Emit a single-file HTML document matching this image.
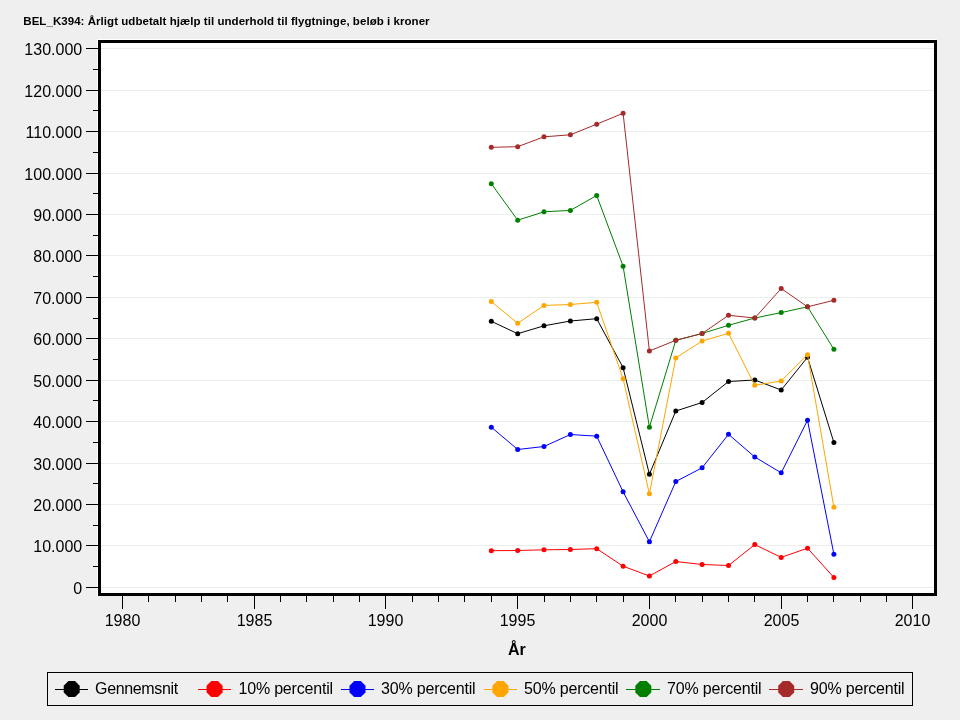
<!DOCTYPE html>
<html lang="da"><head><meta charset="utf-8"><title>BEL_K394</title>
<style>
html,body{margin:0;padding:0;background:#EFEFEF;}
body{width:960px;height:720px;overflow:hidden;position:relative;}
svg{position:absolute;left:0;top:0;display:block;}
text{font-family:"Liberation Sans",Arial,sans-serif;fill:#000;}
.t{font-size:11.5px;font-weight:bold;letter-spacing:0.05px;}
.tk{font-size:16px;}
.tky{font-size:16px;}
.lg{font-size:16px;letter-spacing:-0.2px;}
.ax{font-size:16px;font-weight:bold;}
</style></head><body>
<svg width="960" height="720" viewBox="0 0 960 720">
<rect x="0" y="0" width="960" height="720" fill="#EFEFEF"/>
<rect x="97" y="39" width="840" height="557" fill="#FFFFFF" shape-rendering="crispEdges"/>
<rect x="98" y="40" width="839" height="556" fill="#000" shape-rendering="crispEdges"/>
<rect x="101" y="43" width="833" height="550" fill="#FFFFFF" shape-rendering="crispEdges"/>
<text class="t" x="23.3" y="25">BEL_K394: Årligt udbetalt hjælp til underhold til flygtninge, beløb i kroner</text>
<g shape-rendering="crispEdges">
<rect x="101" y="587" width="833" height="1" fill="#EBEFEB"/><rect x="86" y="587" width="12" height="1" fill="#000"/><rect x="93" y="566" width="5" height="1" fill="#000"/><rect x="101" y="545" width="833" height="1" fill="#EBEFEB"/><rect x="86" y="545" width="12" height="1" fill="#000"/><rect x="93" y="525" width="5" height="1" fill="#000"/><rect x="101" y="504" width="833" height="1" fill="#EBEFEB"/><rect x="86" y="504" width="12" height="1" fill="#000"/><rect x="93" y="483" width="5" height="1" fill="#000"/><rect x="101" y="463" width="833" height="1" fill="#EBEFEB"/><rect x="86" y="463" width="12" height="1" fill="#000"/><rect x="93" y="442" width="5" height="1" fill="#000"/><rect x="101" y="421" width="833" height="1" fill="#EBEFEB"/><rect x="86" y="421" width="12" height="1" fill="#000"/><rect x="93" y="400" width="5" height="1" fill="#000"/><rect x="101" y="380" width="833" height="1" fill="#EBEFEB"/><rect x="86" y="380" width="12" height="1" fill="#000"/><rect x="93" y="359" width="5" height="1" fill="#000"/><rect x="101" y="338" width="833" height="1" fill="#EBEFEB"/><rect x="86" y="338" width="12" height="1" fill="#000"/><rect x="93" y="318" width="5" height="1" fill="#000"/><rect x="101" y="297" width="833" height="1" fill="#EBEFEB"/><rect x="86" y="297" width="12" height="1" fill="#000"/><rect x="93" y="276" width="5" height="1" fill="#000"/><rect x="101" y="255" width="833" height="1" fill="#EBEFEB"/><rect x="86" y="255" width="12" height="1" fill="#000"/><rect x="93" y="235" width="5" height="1" fill="#000"/><rect x="101" y="214" width="833" height="1" fill="#EBEFEB"/><rect x="86" y="214" width="12" height="1" fill="#000"/><rect x="93" y="193" width="5" height="1" fill="#000"/><rect x="101" y="173" width="833" height="1" fill="#EBEFEB"/><rect x="86" y="173" width="12" height="1" fill="#000"/><rect x="93" y="152" width="5" height="1" fill="#000"/><rect x="101" y="131" width="833" height="1" fill="#EBEFEB"/><rect x="86" y="131" width="12" height="1" fill="#000"/><rect x="93" y="110" width="5" height="1" fill="#000"/><rect x="101" y="90" width="833" height="1" fill="#EBEFEB"/><rect x="86" y="90" width="12" height="1" fill="#000"/><rect x="93" y="69" width="5" height="1" fill="#000"/><rect x="101" y="48" width="833" height="1" fill="#EBEFEB"/><rect x="86" y="48" width="12" height="1" fill="#000"/>
<rect x="122" y="596" width="1" height="13" fill="#000"/><rect x="148" y="596" width="1" height="6" fill="#000"/><rect x="175" y="596" width="1" height="6" fill="#000"/><rect x="201" y="596" width="1" height="6" fill="#000"/><rect x="227" y="596" width="1" height="6" fill="#000"/><rect x="254" y="596" width="1" height="13" fill="#000"/><rect x="280" y="596" width="1" height="6" fill="#000"/><rect x="306" y="596" width="1" height="6" fill="#000"/><rect x="333" y="596" width="1" height="6" fill="#000"/><rect x="359" y="596" width="1" height="6" fill="#000"/><rect x="385" y="596" width="1" height="13" fill="#000"/><rect x="412" y="596" width="1" height="6" fill="#000"/><rect x="438" y="596" width="1" height="6" fill="#000"/><rect x="464" y="596" width="1" height="6" fill="#000"/><rect x="491" y="596" width="1" height="6" fill="#000"/><rect x="517" y="596" width="1" height="13" fill="#000"/><rect x="544" y="596" width="1" height="6" fill="#000"/><rect x="570" y="596" width="1" height="6" fill="#000"/><rect x="596" y="596" width="1" height="6" fill="#000"/><rect x="623" y="596" width="1" height="6" fill="#000"/><rect x="649" y="596" width="1" height="13" fill="#000"/><rect x="675" y="596" width="1" height="6" fill="#000"/><rect x="702" y="596" width="1" height="6" fill="#000"/><rect x="728" y="596" width="1" height="6" fill="#000"/><rect x="754" y="596" width="1" height="6" fill="#000"/><rect x="781" y="596" width="1" height="13" fill="#000"/><rect x="807" y="596" width="1" height="6" fill="#000"/><rect x="833" y="596" width="1" height="6" fill="#000"/><rect x="860" y="596" width="1" height="6" fill="#000"/><rect x="886" y="596" width="1" height="6" fill="#000"/><rect x="912" y="596" width="1" height="13" fill="#000"/></g>
<text class="tky" x="82.2" y="594.2" text-anchor="end">0</text><text class="tky" x="82.2" y="552.2" text-anchor="end">10.000</text><text class="tky" x="82.2" y="511.2" text-anchor="end">20.000</text><text class="tky" x="82.2" y="470.2" text-anchor="end">30.000</text><text class="tky" x="82.2" y="428.2" text-anchor="end">40.000</text><text class="tky" x="82.2" y="387.2" text-anchor="end">50.000</text><text class="tky" x="82.2" y="345.2" text-anchor="end">60.000</text><text class="tky" x="82.2" y="304.2" text-anchor="end">70.000</text><text class="tky" x="82.2" y="262.2" text-anchor="end">80.000</text><text class="tky" x="82.2" y="221.2" text-anchor="end">90.000</text><text class="tky" x="82.2" y="180.2" text-anchor="end">100.000</text><text class="tky" x="82.2" y="138.2" text-anchor="end">110.000</text><text class="tky" x="82.2" y="97.2" text-anchor="end">120.000</text><text class="tky" x="82.2" y="55.2" text-anchor="end">130.000</text>
<text class="tk" x="122.5" y="626" text-anchor="middle">1980</text><text class="tk" x="254.5" y="626" text-anchor="middle">1985</text><text class="tk" x="385.5" y="626" text-anchor="middle">1990</text><text class="tk" x="517.5" y="626" text-anchor="middle">1995</text><text class="tk" x="649.5" y="626" text-anchor="middle">2000</text><text class="tk" x="781.5" y="626" text-anchor="middle">2005</text><text class="tk" x="912.5" y="626" text-anchor="middle">2010</text>
<text class="ax" x="516.8" y="655" text-anchor="middle">År</text>
<polyline points="491.3,321.3 517.7,333.7 544.0,325.8 570.4,321.0 596.7,318.7 623.1,367.7 649.4,474.3 675.8,411.0 702.1,402.5 728.5,381.5 754.8,380.0 781.2,390.0 807.5,357.3 833.9,442.5" fill="none" stroke="#000000" stroke-width="1"/>
<circle cx="491.3" cy="321.3" r="2.5" fill="#000000"/><circle cx="517.7" cy="333.7" r="2.5" fill="#000000"/><circle cx="544.0" cy="325.8" r="2.5" fill="#000000"/><circle cx="570.4" cy="321.0" r="2.5" fill="#000000"/><circle cx="596.7" cy="318.7" r="2.5" fill="#000000"/><circle cx="623.1" cy="367.7" r="2.5" fill="#000000"/><circle cx="649.4" cy="474.3" r="2.5" fill="#000000"/><circle cx="675.8" cy="411.0" r="2.5" fill="#000000"/><circle cx="702.1" cy="402.5" r="2.5" fill="#000000"/><circle cx="728.5" cy="381.5" r="2.5" fill="#000000"/><circle cx="754.8" cy="380.0" r="2.5" fill="#000000"/><circle cx="781.2" cy="390.0" r="2.5" fill="#000000"/><circle cx="807.5" cy="357.3" r="2.5" fill="#000000"/><circle cx="833.9" cy="442.5" r="2.5" fill="#000000"/>
<polyline points="491.3,550.7 517.7,550.5 544.0,549.8 570.4,549.5 596.7,548.7 623.1,566.2 649.4,576.0 675.8,561.5 702.1,564.5 728.5,565.5 754.8,544.6 781.2,557.4 807.5,548.2 833.9,577.5" fill="none" stroke="#FF0000" stroke-width="1"/>
<circle cx="491.3" cy="550.7" r="2.5" fill="#FF0000"/><circle cx="517.7" cy="550.5" r="2.5" fill="#FF0000"/><circle cx="544.0" cy="549.8" r="2.5" fill="#FF0000"/><circle cx="570.4" cy="549.5" r="2.5" fill="#FF0000"/><circle cx="596.7" cy="548.7" r="2.5" fill="#FF0000"/><circle cx="623.1" cy="566.2" r="2.5" fill="#FF0000"/><circle cx="649.4" cy="576.0" r="2.5" fill="#FF0000"/><circle cx="675.8" cy="561.5" r="2.5" fill="#FF0000"/><circle cx="702.1" cy="564.5" r="2.5" fill="#FF0000"/><circle cx="728.5" cy="565.5" r="2.5" fill="#FF0000"/><circle cx="754.8" cy="544.6" r="2.5" fill="#FF0000"/><circle cx="781.2" cy="557.4" r="2.5" fill="#FF0000"/><circle cx="807.5" cy="548.2" r="2.5" fill="#FF0000"/><circle cx="833.9" cy="577.5" r="2.5" fill="#FF0000"/>
<polyline points="491.3,427.2 517.7,449.5 544.0,446.5 570.4,434.5 596.7,436.2 623.1,491.8 649.4,541.7 675.8,481.5 702.1,467.8 728.5,434.3 754.8,457.0 781.2,472.8 807.5,420.3 833.9,554.2" fill="none" stroke="#0000FF" stroke-width="1"/>
<circle cx="491.3" cy="427.2" r="2.5" fill="#0000FF"/><circle cx="517.7" cy="449.5" r="2.5" fill="#0000FF"/><circle cx="544.0" cy="446.5" r="2.5" fill="#0000FF"/><circle cx="570.4" cy="434.5" r="2.5" fill="#0000FF"/><circle cx="596.7" cy="436.2" r="2.5" fill="#0000FF"/><circle cx="623.1" cy="491.8" r="2.5" fill="#0000FF"/><circle cx="649.4" cy="541.7" r="2.5" fill="#0000FF"/><circle cx="675.8" cy="481.5" r="2.5" fill="#0000FF"/><circle cx="702.1" cy="467.8" r="2.5" fill="#0000FF"/><circle cx="728.5" cy="434.3" r="2.5" fill="#0000FF"/><circle cx="754.8" cy="457.0" r="2.5" fill="#0000FF"/><circle cx="781.2" cy="472.8" r="2.5" fill="#0000FF"/><circle cx="807.5" cy="420.3" r="2.5" fill="#0000FF"/><circle cx="833.9" cy="554.2" r="2.5" fill="#0000FF"/>
<polyline points="491.3,301.5 517.7,323.3 544.0,305.4 570.4,304.5 596.7,302.3 623.1,378.8 649.4,493.8 675.8,358.0 702.1,341.0 728.5,333.3 754.8,385.3 781.2,381.0 807.5,354.7 833.9,507.2" fill="none" stroke="#FFA500" stroke-width="1"/>
<circle cx="491.3" cy="301.5" r="2.5" fill="#FFA500"/><circle cx="517.7" cy="323.3" r="2.5" fill="#FFA500"/><circle cx="544.0" cy="305.4" r="2.5" fill="#FFA500"/><circle cx="570.4" cy="304.5" r="2.5" fill="#FFA500"/><circle cx="596.7" cy="302.3" r="2.5" fill="#FFA500"/><circle cx="623.1" cy="378.8" r="2.5" fill="#FFA500"/><circle cx="649.4" cy="493.8" r="2.5" fill="#FFA500"/><circle cx="675.8" cy="358.0" r="2.5" fill="#FFA500"/><circle cx="702.1" cy="341.0" r="2.5" fill="#FFA500"/><circle cx="728.5" cy="333.3" r="2.5" fill="#FFA500"/><circle cx="754.8" cy="385.3" r="2.5" fill="#FFA500"/><circle cx="781.2" cy="381.0" r="2.5" fill="#FFA500"/><circle cx="807.5" cy="354.7" r="2.5" fill="#FFA500"/><circle cx="833.9" cy="507.2" r="2.5" fill="#FFA500"/>
<polyline points="491.3,183.7 517.7,220.2 544.0,211.8 570.4,210.4 596.7,195.5 623.1,266.2 649.4,427.2 675.8,340.3 702.1,333.5 728.5,325.3 754.8,318.0 781.2,312.6 807.5,306.8 833.9,349.3" fill="none" stroke="#008000" stroke-width="1"/>
<circle cx="491.3" cy="183.7" r="2.5" fill="#008000"/><circle cx="517.7" cy="220.2" r="2.5" fill="#008000"/><circle cx="544.0" cy="211.8" r="2.5" fill="#008000"/><circle cx="570.4" cy="210.4" r="2.5" fill="#008000"/><circle cx="596.7" cy="195.5" r="2.5" fill="#008000"/><circle cx="623.1" cy="266.2" r="2.5" fill="#008000"/><circle cx="649.4" cy="427.2" r="2.5" fill="#008000"/><circle cx="675.8" cy="340.3" r="2.5" fill="#008000"/><circle cx="702.1" cy="333.5" r="2.5" fill="#008000"/><circle cx="728.5" cy="325.3" r="2.5" fill="#008000"/><circle cx="754.8" cy="318.0" r="2.5" fill="#008000"/><circle cx="781.2" cy="312.6" r="2.5" fill="#008000"/><circle cx="807.5" cy="306.8" r="2.5" fill="#008000"/><circle cx="833.9" cy="349.3" r="2.5" fill="#008000"/>
<polyline points="491.3,147.3 517.7,146.7 544.0,136.8 570.4,134.8 596.7,124.2 623.1,113.3 649.4,351.0 675.8,340.3 702.1,333.5 728.5,315.3 754.8,318.0 781.2,288.5 807.5,306.8 833.9,300.3" fill="none" stroke="#A52A2A" stroke-width="1"/>
<circle cx="491.3" cy="147.3" r="2.5" fill="#A52A2A"/><circle cx="517.7" cy="146.7" r="2.5" fill="#A52A2A"/><circle cx="544.0" cy="136.8" r="2.5" fill="#A52A2A"/><circle cx="570.4" cy="134.8" r="2.5" fill="#A52A2A"/><circle cx="596.7" cy="124.2" r="2.5" fill="#A52A2A"/><circle cx="623.1" cy="113.3" r="2.5" fill="#A52A2A"/><circle cx="649.4" cy="351.0" r="2.5" fill="#A52A2A"/><circle cx="675.8" cy="340.3" r="2.5" fill="#A52A2A"/><circle cx="702.1" cy="333.5" r="2.5" fill="#A52A2A"/><circle cx="728.5" cy="315.3" r="2.5" fill="#A52A2A"/><circle cx="754.8" cy="318.0" r="2.5" fill="#A52A2A"/><circle cx="781.2" cy="288.5" r="2.5" fill="#A52A2A"/><circle cx="807.5" cy="306.8" r="2.5" fill="#A52A2A"/><circle cx="833.9" cy="300.3" r="2.5" fill="#A52A2A"/>
<rect x="47.5" y="672.5" width="865" height="33" fill="#EFEFEF" stroke="#000" stroke-width="1" shape-rendering="crispEdges"/>
<rect x="55" y="689" width="33" height="1" fill="#000000" shape-rendering="crispEdges"/><polygon points="68.4,681.1 75.0,681.1 79.7,685.8 79.7,692.5 75.0,697.1 68.4,697.1 63.7,692.5 63.7,685.8" fill="#000000"/><text class="lg" x="95.1" y="694" style="letter-spacing:-0.36px">Gennemsnit</text>
<rect x="198" y="689" width="33" height="1" fill="#FF0000" shape-rendering="crispEdges"/><polygon points="211.3,681.1 217.9,681.1 222.6,685.8 222.6,692.5 217.9,697.1 211.3,697.1 206.6,692.5 206.6,685.8" fill="#FF0000"/><text class="lg" x="238.5" y="694">10% percentil</text>
<rect x="341" y="689" width="33" height="1" fill="#0000FF" shape-rendering="crispEdges"/><polygon points="354.2,681.1 360.8,681.1 365.5,685.8 365.5,692.5 360.8,697.1 354.2,697.1 349.5,692.5 349.5,685.8" fill="#0000FF"/><text class="lg" x="381.1" y="694">30% percentil</text>
<rect x="484" y="689" width="33" height="1" fill="#FFA500" shape-rendering="crispEdges"/><polygon points="497.1,681.1 503.7,681.1 508.4,685.8 508.4,692.5 503.7,697.1 497.1,697.1 492.4,692.5 492.4,685.8" fill="#FFA500"/><text class="lg" x="524.1" y="694">50% percentil</text>
<rect x="626" y="689" width="34" height="1" fill="#008000" shape-rendering="crispEdges"/><polygon points="640.0,681.1 646.6,681.1 651.3,685.8 651.3,692.5 646.6,697.1 640.0,697.1 635.3,692.5 635.3,685.8" fill="#008000"/><text class="lg" x="667.1" y="694">70% percentil</text>
<rect x="769" y="689" width="34" height="1" fill="#A52A2A" shape-rendering="crispEdges"/><polygon points="782.9,681.1 789.5,681.1 794.2,685.8 794.2,692.5 789.5,697.1 782.9,697.1 778.2,692.5 778.2,685.8" fill="#A52A2A"/><text class="lg" x="810.1" y="694">90% percentil</text>
</svg>
</body></html>
